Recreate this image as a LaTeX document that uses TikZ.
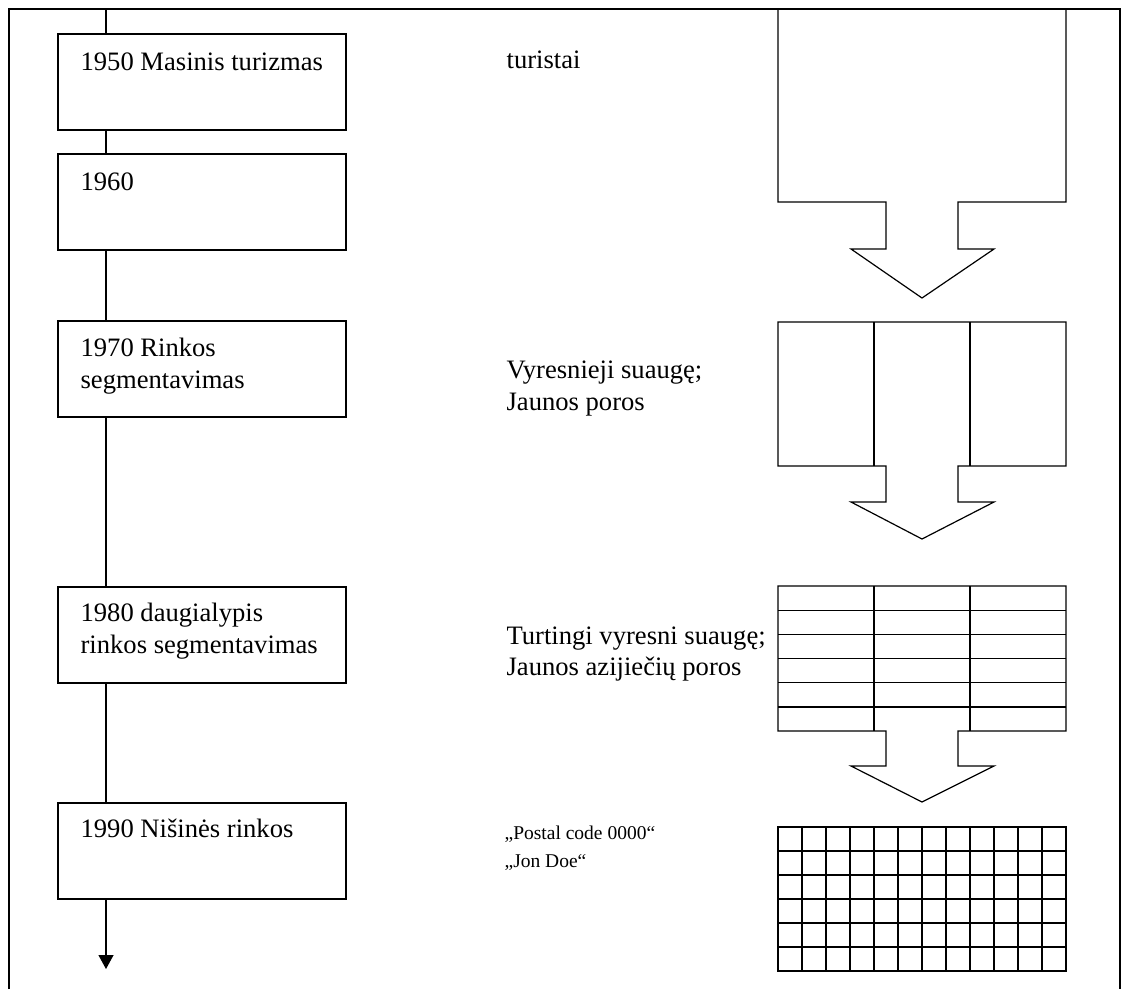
\documentclass[tikz,border=0pt]{standalone}
\usepackage{fontspec}
\setmainfont{Liberation Serif}
\usetikzlibrary{arrows.meta}
\begin{document}
\begin{tikzpicture}[x=1pt,y=-1pt,line width=1.2pt,
  period/.style={draw,rectangle,minimum width=288pt,minimum height=96pt,anchor=north west,inner sep=0pt,outer sep=0pt},
  lbl/.style={anchor=base west,inner sep=0pt,font=\fontsize{26.6}{31.5}\selectfont},
  lblsmall/.style={anchor=base west,inner sep=0pt,font=\fontsize{19.5}{24}\selectfont},
  seg/.style={line join=miter}]
\useasboundingbox (0,0) rectangle (1130,989);

% page frame
\draw (9,989) -- (9,9) -- (1120,9) -- (1120,989);

% timeline boxes
\node[period] (b1) at (58,34) {};
\node[period] (b2) at (58,154) {};
\node[period] (b3) at (58,321) {};
\node[period] (b4) at (58,587) {};
\node[period] (b5) at (58,803) {};

\node[lbl] (t1) at (80,70) {1950 Masinis turizmas};
\node[lbl] (t2) at (80,190) {1960};
\node[lbl] (t3a) at (80,356) {1970 Rinkos};
\node[lbl] (t3b) at (80,388) {segmentavimas};
\node[lbl] (t4a) at (80,621) {1980 daugialypis};
\node[lbl] (t4b) at (80,653) {rinkos segmentavimas};
\node[lbl] (t5) at (80,837) {1990 Nišinės rinkos};

% timeline axis
\coordinate (axtop) at (106,9);
\coordinate (axend) at (106,969);
\draw (axtop) -- (axtop |- b1.north);
\draw (axtop |- b1.south) -- (axtop |- b2.north);
\draw (axtop |- b2.south) -- (axtop |- b3.north);
\draw (axtop |- b3.south) -- (axtop |- b4.north);
\draw (axtop |- b4.south) -- (axtop |- b5.north);
\draw[-{Triangle[length=14pt,width=15pt]}] (axtop |- b5.south) -- (axend);

% target groups
\node[lbl] (r1) at (506,68) {turistai};
\node[lbl] (r2a) at (506,378) {Vyresnieji suaugę;};
\node[lbl] (r2b) at (506,410) {Jaunos poros};
\node[lbl] (r3a) at (506,644) {Turtingi vyresni suaugę;};
\node[lbl] (r3b) at (506,675) {Jaunos azijiečių poros};
\node[lblsmall] (r4a) at (504,839) {„Postal code 0000“};
\node[lblsmall] (r4b) at (504,867) {„Jon Doe“};

% segmentation arrows
\draw[seg] (778,9) -- (1066,9) -- (1066,202) -- (958,202) -- (958,249) -- (994,249)
  -- (922,298) -- (851,249) -- (886,249) -- (886,202) -- (778,202) -- cycle;

\draw[seg] (778,322) -- (1066,322) -- (1066,466) -- (958,466) -- (958,502) -- (994,502)
  -- (922,539) -- (851,502) -- (886,502) -- (886,466) -- (778,466) -- cycle;
\draw (874,322) -- (874,466);
\draw (970,322) -- (970,466);

\draw[seg] (778,586) -- (1066,586) -- (1066,731) -- (958,731) -- (958,766) -- (994,766)
  -- (922,802) -- (851,766) -- (886,766) -- (886,731) -- (778,731) -- cycle;
\draw (874,586) -- (874,731);
\draw (970,586) -- (970,731);
\foreach \y in {610.2,634.4,658.6,682.8,707} \draw (778,\y) -- (1066,\y);

% niche grid
\draw (778,827) rectangle (1066,971);
\foreach \i in {1,...,11} \draw (778+24*\i,827) -- (778+24*\i,971);
\foreach \j in {1,...,5} \draw (778,827+24*\j) -- (1066,827+24*\j);
\end{tikzpicture}
\end{document}
